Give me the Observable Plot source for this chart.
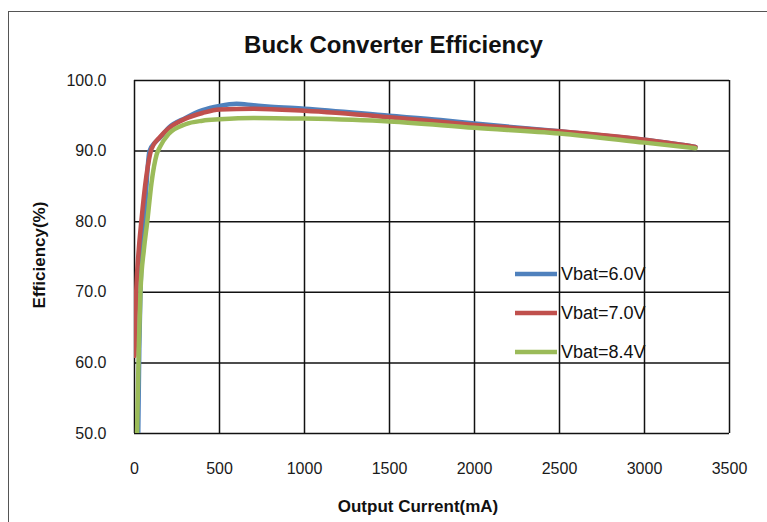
<!DOCTYPE html>
<html><head><meta charset="utf-8">
<script src="https://cdn.jsdelivr.net/npm/d3@7"></script>
<script src="https://cdn.jsdelivr.net/npm/@observablehq/plot@0.6"></script>
<style>
body{margin:0;background:#fff;}
#wrap{position:relative;width:767px;height:522px;overflow:hidden;font-family:"Liberation Sans",Arial,sans-serif;color:#111;}
#border{position:absolute;left:8px;top:11px;width:900px;height:700px;border:1.5px solid #555;box-sizing:border-box;}
#chart{position:absolute;left:0;top:0;}
.title{position:absolute;left:0;width:787px;top:31px;text-align:center;font-weight:bold;font-size:24px;}
.xlab{position:absolute;left:0;width:836px;top:497px;text-align:center;font-weight:bold;font-size:17px;}
.ylab{position:absolute;left:40px;top:255px;transform:translate(-50%,-50%) rotate(-90deg);white-space:nowrap;font-weight:bold;font-size:17px;}
#legend{position:absolute;left:513px;top:254px;}
.lrow{display:flex;align-items:center;height:39px;}
.lrow svg{display:block;margin-right:4px;}
.lrow span{font-size:18px;line-height:1;}
</style>
</head><body>
<div id="wrap">
  <div id="border"></div>
  <div id="chart"></div>
  <div class="title">Buck Converter Efficiency</div>
  <div class="ylab">Efficiency(%)</div>
  <div class="xlab">Output Current(mA)</div>
  <div id="legend"></div>
</div>
<script>
// ---- data ----
const seriesNames = ["Vbat=6.0V", "Vbat=7.0V", "Vbat=8.4V"];
const seriesColors = ["#4F81BD", "#C0504D", "#9BBB59"];

const current60 = [22, 28, 35, 58, 88, 120, 150, 200, 300, 400, 500, 600, 700, 800, 1000, 1500, 1800, 2000, 2500, 3000, 3300];
const eff60     = [50, 62, 70, 80, 90, 91.2, 91.9, 93.3, 94.7, 95.8, 96.4, 96.7, 96.5, 96.3, 96.0, 95.0, 94.4, 93.9, 92.8, 91.6, 90.6];

const current70 = [0, 10, 25, 40, 70, 100, 150, 200, 300, 400, 500, 700, 1000, 1500, 2000, 2500, 3000, 3300];
const eff70     = [61, 70, 76, 80, 86.5, 90.3, 92.0, 93.2, 94.6, 95.4, 95.9, 96.0, 95.7, 94.8, 93.7, 92.8, 91.6, 90.6];

const current84 = [15, 25, 35, 55, 75, 100, 130, 150, 200, 300, 400, 500, 700, 1000, 1500, 2000, 2500, 3000, 3300];
const eff84     = [50, 62, 70, 76, 80, 85.5, 89.5, 90.6, 92.4, 93.8, 94.3, 94.5, 94.7, 94.6, 94.2, 93.3, 92.5, 91.2, 90.4];

const xTicks = [0, 500, 1000, 1500, 2000, 2500, 3000, 3500];
const yTicks = [50, 60, 70, 80, 90, 100];

// ---- build table ----
const rows = [];
[[current60, eff60], [current70, eff70], [current84, eff84]].forEach(([xs, ys], i) => {
  xs.forEach((x, j) => rows.push({series: seriesNames[i], current: x, eff: ys[j]}));
});

const gridStyle = {stroke: "#111", strokeOpacity: 1, strokeWidth: 1.5};

const chart = Plot.plot({
  width: 767,
  height: 522,
  marginLeft: 134,
  marginRight: 38,
  marginTop: 80,
  marginBottom: 89,
  style: {fontFamily: '"Liberation Sans", Arial, sans-serif', color: "#1a1a1a", background: "transparent"},
  x: {domain: [0, 3500]},
  y: {domain: [50, 100]},
  color: {domain: seriesNames, range: seriesColors},
  marks: [
    Plot.gridX(xTicks, gridStyle),
    Plot.gridY(yTicks, gridStyle),
    Plot.axisX(xTicks, {tickSize: 0, tickPadding: 29, fontSize: 16, label: null, tickFormat: d => String(d)}),
    Plot.axisY(yTicks, {tickSize: 0, tickPadding: 28, fontSize: 16, label: null, tickFormat: d => d.toFixed(1)}),
    Plot.line(rows, {x: "current", y: "eff", z: "series", stroke: "series", strokeWidth: 4.5, curve: "monotone-x", clip: true, strokeLinejoin: "round", strokeLinecap: "round"})
  ]
});
document.getElementById("chart").appendChild(chart);

// ---- legend ----
const legend = document.getElementById("legend");
seriesNames.forEach((name, i) => {
  const row = document.createElement("div");
  row.className = "lrow";
  row.innerHTML = `<svg width="44" height="8"><line x1="2" y1="4" x2="44" y2="4" stroke="${seriesColors[i]}" stroke-width="4.5"/></svg><span>${name}</span>`;
  legend.appendChild(row);
});
</script>
</body></html>
